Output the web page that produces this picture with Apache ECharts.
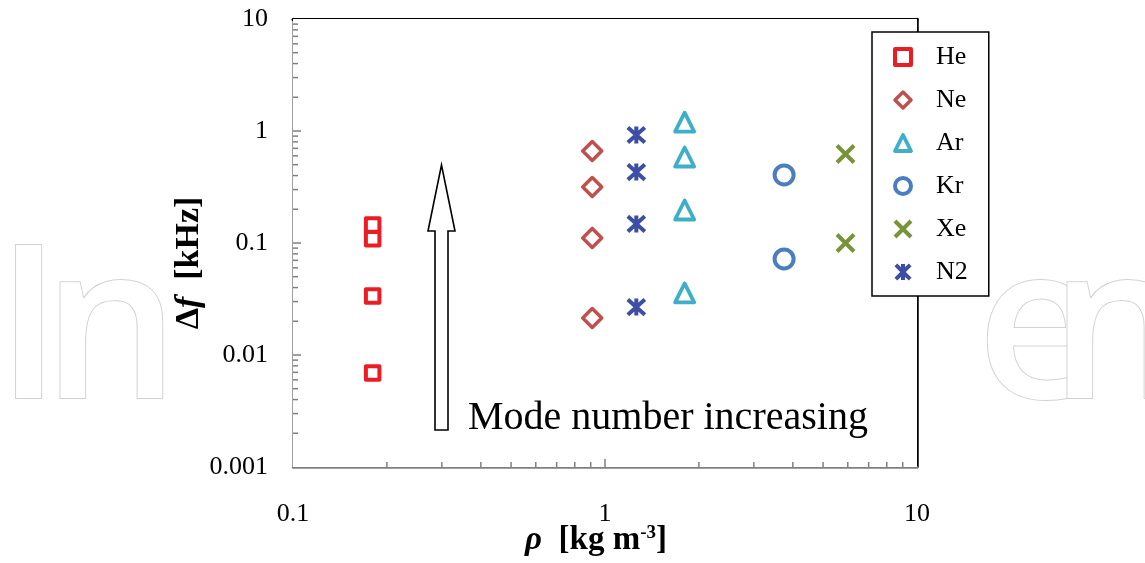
<!DOCTYPE html>
<html>
<head>
<meta charset="utf-8">
<script src="https://cdn.jsdelivr.net/npm/echarts@6/dist/echarts.min.js"></script>
<style>
  html, body { margin: 0; padding: 0; background: #ffffff; }
  #chart { width: 1145px; height: 563px; }
</style>
</head>
<body>
<div id="chart"></div>
<script>
// Gas names, their densities (kg m^-3) and the measured frequency splits (kHz)
const gasNames = ['He', 'Ne', 'Ar', 'Kr', 'Xe', 'N2'];
const gasDensity = [0.18, 0.91, 1.80, 3.75, 5.9, 1.26];
const heDf = [0.145, 0.109, 0.0336, 0.0069];
const neDf = [0.663, 0.316, 0.111, 0.0214];
const arDf = [1.20, 0.586, 0.197, 0.0358];
const krDf = [0.405, 0.072];
const xeDf = [0.623, 0.100];
const n2Df = [0.921, 0.430, 0.148, 0.0268];

// Axis ranges and the sub-decade tick multipliers of the log axes
const xRange = [0.1, 10];
const yRange = [0.001, 10];
const xDecades = [0.1, 1];
const yDecades = [0.001, 0.01, 0.1, 1];
const minorSteps = [2, 3, 4, 5, 6, 7, 8, 9];

const SERIF = '"Liberation Serif", "Times New Roman", serif';
const dfByGas = [heDf, neDf, arDf, krDf, xeDf, n2Df];

// Marker look for each gas (hollow outlines)
const markerLook = {
  He: { symbol: 'rect', size: 13.5, color: '#ED1C24', width: 4 },
  Ne: { symbol: 'diamond', size: 19, color: '#C0504D', width: 3.5 },
  Ar: { symbol: 'triangle', size: 19, color: '#3FAFC9', width: 3.8 },
  Kr: { symbol: 'circle', size: 19, color: '#4A7EC0', width: 4 },
  Xe: { symbol: 'path://M0,0L10,10M10,0L0,10', size: 17, color: '#77943A', width: 4 },
  N2: { symbol: 'path://M0,0L10,10M10,0L0,10M5,-0.6L5,10.6', size: 17, color: '#3C4FA4', width: 4 }
};

const gasSeries = gasNames.map((name, i) => {
  const look = markerLook[name];
  return {
    type: 'scatter',
    name: name,
    symbol: look.symbol,
    symbolSize: look.size,
    z: 3,
    itemStyle: {
      color: 'rgba(0,0,0,0)',
      borderColor: look.color,
      borderWidth: look.width,
      borderJoin: 'round',
      opacity: 1
    },
    emphasis: { disabled: true },
    data: dfByGas[i].map(v => [gasDensity[i], v])
  };
});

// Inside tick marks at 2..9 of every decade plus the interior decade marks
function tickList(decades, range) {
  const out = [];
  decades.forEach(d => {
    if (d > range[0]) out.push({ value: d, len: 8 });
    minorSteps.forEach(m => out.push({ value: d * m, len: 5 }));
  });
  return out;
}

function tickSeries(axis, ticks) {
  return {
    type: 'custom',
    name: axis + '-ticks',
    silent: true,
    clip: false,
    z: 4,
    data: ticks.map(t => axis === 'x' ? [t.value, yRange[0], t.len] : [xRange[0], t.value, t.len]),
    renderItem: function (params, api) {
      const p = api.coord([api.value(0), api.value(1)]);
      const len = api.value(2);
      const shape = axis === 'x'
        ? { x1: p[0], y1: p[1], x2: p[0], y2: p[1] - len }
        : { x1: p[0], y1: p[1], x2: p[0] + len, y2: p[1] };
      return { type: 'line', shape: shape, style: { stroke: '#7f7f7f', lineWidth: 1.5 } };
    }
  };
}

const legendBorder = { He: 4, Ne: 3.5, Ar: 3.8, Kr: 4, Xe: 4, N2: 4 };

// outlined letters of the faint background mark
function markLetter(ch, x) {
  return {
    type: 'text', z: -10, silent: true,
    style: { text: ch, x: x, y: 337, verticalAlign: 'middle',
      font: '600 214px "Open Sans"', fill: '#ffffff', stroke: '#d2d2d2', lineWidth: 2 }
  };
}

const chart = echarts.init(document.getElementById('chart'), null, { renderer: 'canvas' });

chart.setOption({
  backgroundColor: '#ffffff',
  animation: false,
  textStyle: { fontFamily: SERIF },
  grid: {
    left: 293, right: 228, top: 19, bottom: 96,
    outerBoundsMode: 'none',
    containLabel: false,
    show: true, backgroundColor: '#ffffff', borderWidth: 0, z: 1
  },
  xAxis: [
    {
      type: 'log', logBase: 10, min: xRange[0], max: xRange[1],
      position: 'bottom',
      axisLine: { show: true, lineStyle: { color: '#808080', width: 2.5 } },
      axisTick: { show: false },
      minorTick: { show: false },
      splitLine: { show: false },
      axisLabel: { fontFamily: SERIF, fontSize: 26, color: '#000', margin: 34 },
      name: '{r|ρ}{b|  [kg m}{s|-3}{b|]}',
      nameLocation: 'middle',
      nameGap: 57,
      nameMoveOverlap: false,
      nameTextStyle: {
        padding: [0, 18, 0, 0],
        rich: {
          r: { fontFamily: SERIF, fontStyle: 'italic', fontWeight: 'bold', fontSize: 33, color: '#000' },
          b: { fontFamily: SERIF, fontWeight: 'bold', fontSize: 33, color: '#000' },
          s: { fontFamily: SERIF, fontWeight: 'bold', fontSize: 19, color: '#000', verticalAlign: 'top' }
        }
      }
    },
    {
      type: 'log', logBase: 10, min: xRange[0], max: xRange[1],
      position: 'top',
      axisLine: { show: true, onZero: false, lineStyle: { color: '#000', width: 3 } },
      axisTick: { show: false }, axisLabel: { show: false }, splitLine: { show: false }
    }
  ],
  yAxis: [
    {
      type: 'log', logBase: 10, min: yRange[0], max: yRange[1],
      position: 'left',
      axisLine: { show: true, lineStyle: { color: '#808080', width: 2.5 } },
      axisTick: { show: false },
      minorTick: { show: false },
      splitLine: { show: false },
      axisLabel: { fontFamily: SERIF, fontSize: 26, color: '#000', margin: 25 },
      name: '{d|Δ}{f|f}{b|  [kHz]}',
      nameLocation: 'middle',
      nameRotate: 90,
      nameGap: 87,
      nameMoveOverlap: false,
      nameTextStyle: {
        padding: [0, 40, 0, 0],
        rich: {
          d: { fontFamily: SERIF, fontWeight: 'bold', fontSize: 34, color: '#000' },
          f: { fontFamily: SERIF, fontStyle: 'italic', fontWeight: 'bold', fontSize: 34, color: '#000' },
          b: { fontFamily: SERIF, fontWeight: 'bold', fontSize: 34, color: '#000' }
        }
      }
    },
    {
      type: 'log', logBase: 10, min: yRange[0], max: yRange[1],
      position: 'right',
      axisLine: { show: true, onZero: false, lineStyle: { color: '#000', width: 2.5 } },
      axisTick: { show: false }, axisLabel: { show: false }, splitLine: { show: false }
    }
  ],
  legend: {
    orient: 'vertical',
    left: 872, top: 32,
    padding: [12, 21, 11, 21],
    itemWidth: 16, itemHeight: 16,
    itemGap: 17,
    backgroundColor: '#ffffff',
    borderColor: '#000000',
    borderWidth: 1.5,
    z: 10,
    textStyle: { fontFamily: SERIF, fontSize: 26, color: '#000', padding: [0, 0, 0, 20] },
    selectedMode: false,
    data: gasNames.map(n => ({ name: n, itemStyle: { borderWidth: legendBorder[n], opacity: 1 } }))
  },
  graphic: [
    markLetter('I', -4),
    markLetter('n', 43),
    markLetter('e', 977),
    markLetter('n', 1050),
    // hollow arrow with its caption
    {
      type: 'polygon', z: 50, silent: true,
      shape: { points: [[435, 430], [448, 430], [448, 231], [455, 231], [441.5, 165], [428, 231], [435, 231]] },
      style: { fill: '#ffffff', stroke: '#000000', lineWidth: 1.6 }
    },
    {
      type: 'text', z: 50, silent: true,
      style: { text: 'Mode number increasing', x: 468, y: 418, verticalAlign: 'middle',
        font: '40px "Liberation Serif"', fill: '#000000' }
    }
  ],
  series: gasSeries.concat([
    tickSeries('x', tickList(xDecades, xRange)),
    tickSeries('y', tickList(yDecades, yRange))
  ])
});
</script>
</body>
</html>
